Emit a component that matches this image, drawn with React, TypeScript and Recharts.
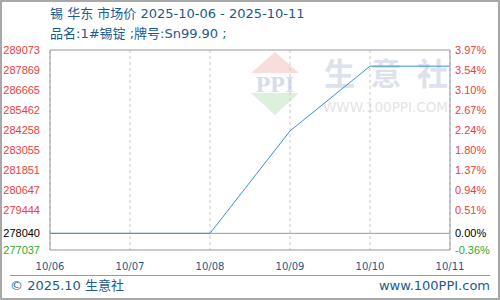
import { LineChart, Line, XAxis, YAxis, CartesianGrid, ReferenceLine } from 'recharts';

// values
const dates = ['10/06', '10/07', '10/08', '10/09', '10/10', '10/11'];
const prices = [278040, 278040, 278040, 284200, 288100, 288100];
const basePrice = 278040;
const axisMin = 277037;
const axisMax = 289073;
const priceTicks = [289073, 287869, 286665, 285462, 284258, 283055, 281851, 280647, 279444, 278040, 277037];
const pctLabels = ['3.97%', '3.54%', '3.10%', '2.67%', '2.24%', '1.80%', '1.37%', '0.94%', '0.51%', '0.00%', '-0.36%'];
const gridValues = [287869, 286665, 285462, 284258, 283055, 281851, 280647, 279444, 278240];

const data = dates.map((d, i) => ({ date: d, price: prices[i] }));

const BLUE_TEXT = '#1b5a8e';
const FONT = '"DejaVu Sans", "Noto Sans CJK SC", sans-serif';

const tickColor = (v: number) => (v > basePrice ? '#f03c3c' : v < basePrice ? '#2faa2f' : '#000');

const LeftTick = ({ x, y, payload }: any) => (
  <text x={x} y={y} textAnchor="end" dominantBaseline="central" fill={tickColor(payload.value)}
    fontSize={11} fontFamily='"Liberation Sans", sans-serif'>
    {payload.value}
  </text>
);

const RightTick = ({ x, y, payload }: any) => (
  <text x={x} y={y} textAnchor="start" dominantBaseline="central" fill={tickColor(payload.value)}
    fontSize={11} fontFamily='"Liberation Sans", sans-serif'>
    {pctLabels[priceTicks.indexOf(payload.value)]}
  </text>
);

const DateTick = ({ x, y, payload }: any) => (
  <text x={x} y={y} textAnchor="middle" dominantBaseline="central" fill={BLUE_TEXT}
    fontSize={10} fontFamily='"DejaVu Sans", sans-serif'>
    {payload.value}
  </text>
);

// faint 100PPI watermark behind the plot
function Watermark() {
  return (
    <svg width={500} height={300} style={{ position: 'absolute', left: 0, top: 0 }}>
      <polygon points="275,52 251,73 299,73" fill="#f9dcdc" />
      <polygon points="251,93 299,93 275,115" fill="#dcf0dc" />
      <text x={275} y={92} textAnchor="middle" fontSize={24} fontWeight="bold"
        fontFamily='"Liberation Serif", serif' fill="#d6dcea">PPI</text>
      <text x={324} y={85} fontSize={31} fontWeight="bold" fill="#dde1eb"
        fontFamily='"Noto Sans CJK SC", sans-serif' textLength={124} lengthAdjust="spacing">生意社</text>
      <text x={323} y={112} fontSize={14} fill="#e4e4e4"
        fontFamily='"DejaVu Sans", sans-serif' textLength={125} lengthAdjust="spacingAndGlyphs">WWW.100PPI.COM</text>
    </svg>
  );
}

export default function App() {
  return (
    <div style={{ position: 'absolute', left: 0, top: 0, width: 500, height: 300, background: '#fff', fontFamily: FONT }}>
      <Watermark />
      <div style={{ position: 'absolute', left: 50, top: 6, fontSize: 13, lineHeight: '16px', color: BLUE_TEXT, whiteSpace: 'nowrap' }}>
        锡 华东 市场价 2025-10-06 - 2025-10-11
      </div>
      <div style={{ position: 'absolute', left: 50, top: 26, fontSize: 13, lineHeight: '16px', color: BLUE_TEXT, whiteSpace: 'nowrap' }}>
        品名:1#锡锭 ;牌号:Sn99.90 ;
      </div>
      <div style={{ position: 'absolute', left: 0, top: 0 }}>
        <LineChart width={500} height={300} data={data} margin={{ top: 50, right: 0, bottom: 20, left: 0 }}>
          <CartesianGrid stroke="#c8c8c8" strokeDasharray="3 3" horizontalValues={gridValues} />
          <XAxis dataKey="date" height={30} axisLine={{ stroke: '#999' }} tickLine={false}
            tickSize={0} tickMargin={16} tick={<DateTick />} interval={0} />
          <YAxis yAxisId="l" width={50} domain={[axisMin, axisMax]} ticks={priceTicks} interval={0}
            axisLine={{ stroke: '#999' }} tickLine={false} tickSize={0} tickMargin={10} tick={<LeftTick />} />
          <YAxis yAxisId="r" orientation="right" width={50} domain={[axisMin, axisMax]} ticks={priceTicks} interval={0}
            axisLine={{ stroke: '#999' }} tickLine={false} tickSize={0} tickMargin={5} tick={<RightTick />} />
          <ReferenceLine yAxisId="l" y={axisMax} stroke="#999" />
          <ReferenceLine yAxisId="l" y={basePrice} stroke="#999" />
          <Line yAxisId="r" dataKey="price" stroke="none" dot={false} isAnimationActive={false} />
          <Line yAxisId="l" type="linear" dataKey="price" stroke="#3a8fd8" strokeWidth={1} dot={false} isAnimationActive={false} />
        </LineChart>
      </div>
      <div style={{ position: 'absolute', left: 10, top: 275, width: 480, borderTop: '1px solid #999' }} />
      <div style={{ position: 'absolute', left: 10, top: 278, fontSize: 13, lineHeight: '16px', color: BLUE_TEXT, whiteSpace: 'nowrap' }}>
        © 2025.10 生意社
      </div>
      <div style={{ position: 'absolute', right: 10, top: 278, fontSize: 13, lineHeight: '16px', color: BLUE_TEXT, whiteSpace: 'nowrap' }}>
        www.100PPI.com
      </div>
      <div style={{ position: 'absolute', left: 0, top: 0, width: 500, height: 300, boxSizing: 'border-box', border: '2px solid #a8a8a8', pointerEvents: 'none' }} />
    </div>
  );
}
